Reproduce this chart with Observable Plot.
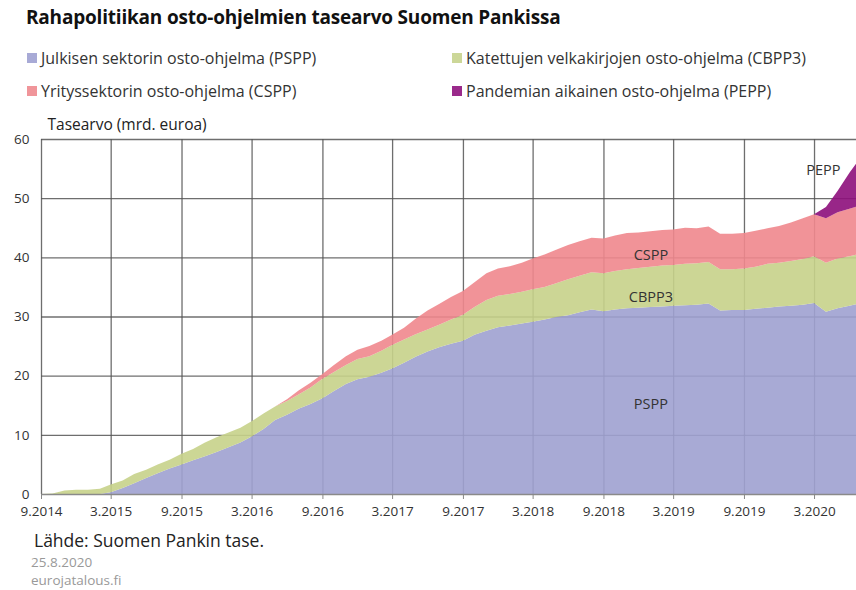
<!DOCTYPE html>
<html>
<head>
<meta charset="utf-8">
<script src="https://cdn.jsdelivr.net/npm/d3@7"></script>
<script src="https://cdn.jsdelivr.net/npm/@observablehq/plot@0.6"></script>
<style>
  body { margin: 0; width: 856px; height: 590px; overflow: hidden; background: #fff; position: relative; font-family: "Open Sans", sans-serif; }
  .abs { position: absolute; white-space: nowrap; }
  #title { left: 26px; top: 5px; font-size: 19px; font-weight: 700; color: #111; line-height: 24px; letter-spacing: -0.2px; }
  .leg { display: flex; align-items: center; font-size: 16px; color: #333; line-height: 22px; }
  .sw { width: 10px; height: 10px; margin-right: 4px; flex: none; }
  #chart { left: 0; top: 105px; }
  #source { left: 34px; top: 530px; font-size: 17.5px; color: #222; line-height: 20px; }
  #date { left: 31px; top: 554px; font-size: 13.5px; color: #999; line-height: 16px; }
  #site { left: 31px; top: 572px; font-size: 13.5px; color: #999; line-height: 16px; }
</style>
</head>
<body>
<div id="title" class="abs">Rahapolitiikan osto-ohjelmien tasearvo Suomen Pankissa</div>
<div id="legend"></div>
<div id="chart" class="abs"></div>
<div id="source" class="abs">Lähde: Suomen Pankin tase.</div>
<div id="date" class="abs">25.8.2020</div>
<div id="site" class="abs">eurojatalous.fi</div>
<script>
// Series (short names used in chart labels, long names in legend)
const seriesKeys = ["PSPP", "CBPP3", "CSPP", "PEPP"];
const legendLabels = [
  "Julkisen sektorin osto-ohjelma (PSPP)",
  "Katettujen velkakirjojen osto-ohjelma (CBPP3)",
  "Yrityssektorin osto-ohjelma (CSPP)",
  "Pandemian aikainen osto-ohjelma (PEPP)"
];
const swatchColors = ["#a8aad6", "#ccd798", "#f0959a", "#9a2a8b"];
const fillColors = ["#9ea1d0", "#c6d18a", "#ef878d", "#8d0e7b"];

// Monthly, 9.2014 ... 7.2020 (mrd. euroa)
const firstMonth = "2014-09";
const lastMonth = "2020-07";
const pspp = [
  0, 0, 0, 0, 0, 0, 0.3, 1.0, 1.8, 2.7, 3.5, 4.3,
  5.0, 5.7, 6.4, 7.1, 7.9, 8.7, 9.7, 11.0, 12.5, 13.4, 14.4, 15.2,
  16.2, 17.4, 18.6, 19.4, 19.8, 20.5, 21.2, 22.2, 23.2, 24.1, 24.8, 25.4,
  25.9, 26.9, 27.6, 28.2, 28.5, 28.8, 29.1, 29.5, 29.9, 30.2, 30.7, 31.2,
  30.9, 31.2, 31.4, 31.5, 31.6, 31.7, 31.8, 31.9, 32.0, 32.2, 31.0, 31.1,
  31.1, 31.3, 31.5, 31.7, 31.8, 32.0, 32.3, 30.8, 31.4, 31.8, 32.3
];
const cbpp3 = [
  0, 0.1, 0.6, 0.7, 0.7, 0.9, 1.3, 1.3, 1.6, 1.4, 1.5, 1.5,
  1.8, 1.9, 2.3, 2.5, 2.5, 2.5, 2.6, 2.6, 2.3, 2.3, 2.4, 2.8,
  3.3, 3.2, 3.2, 3.4, 3.5, 3.7, 4.0, 3.9, 3.8, 3.7, 3.8, 4.1,
  4.4, 4.7, 5.2, 5.3, 5.3, 5.4, 5.5, 5.5, 5.7, 6.1, 6.2, 6.3,
  6.4, 6.5, 6.6, 6.7, 6.8, 6.9, 6.9, 7.0, 7.0, 7.0, 7.0, 6.9,
  7.0, 7.1, 7.4, 7.4, 7.6, 7.7, 7.9, 8.3, 8.4, 8.4, 8.3
];
const cspp = [
  0, 0, 0, 0, 0, 0, 0, 0, 0, 0, 0, 0,
  0, 0, 0, 0, 0, 0, 0, 0, 0, 0.3, 0.7, 0.8,
  0.8, 1.2, 1.5, 1.6, 1.7, 1.7, 1.7, 2.0, 2.6, 3.2, 3.5, 3.8,
  4.0, 4.2, 4.5, 4.6, 4.7, 4.9, 5.2, 5.5, 5.7, 5.8, 5.8, 5.8,
  5.9, 6.0, 6.1, 6.0, 6.0, 6.0, 6.0, 6.1, 5.9, 6.0, 6.0, 6.0,
  6.0, 6.1, 6.0, 6.2, 6.5, 6.9, 7.1, 7.5, 7.8, 8.0, 8.2
];
const pepp = [
  0, 0, 0, 0, 0, 0, 0, 0, 0, 0, 0, 0,
  0, 0, 0, 0, 0, 0, 0, 0, 0, 0, 0, 0,
  0, 0, 0, 0, 0, 0, 0, 0, 0, 0, 0, 0,
  0, 0, 0, 0, 0, 0, 0, 0, 0, 0, 0, 0,
  0, 0, 0, 0, 0, 0, 0, 0, 0, 0, 0, 0,
  0, 0, 0, 0, 0, 0, 0, 1.9, 3.6, 6.1, 8.2
];
const xTickLabels = ["9.2014", "3.2015", "9.2015", "3.2016", "9.2016", "3.2017",
  "9.2017", "3.2018", "9.2018", "3.2019", "9.2019", "3.2020"];
const yTicks = [0, 10, 20, 30, 40, 50, 60];
const yTitle = "Tasearvo (mrd. euroa)";
// In-chart series labels
const labelText = ["PSPP", "CBPP3", "CSPP", "PEPP"];
const labelDate = ["2019-01-01", "2019-01-01", "2019-01-01", "2020-03-24"];
const labelValue = [15.2, 33.3, 40.4, 54.7];

// ---- build ----
const parseMonth = d3.utcParse("%Y-%m");
const months = d3.utcMonth.range(parseMonth(firstMonth), d3.utcMonth.offset(parseMonth(lastMonth), 1));
const valueArrays = [pspp, cbpp3, cspp, pepp];
const rows = [];
seriesKeys.forEach((k, s) => months.forEach((m, i) => rows.push({date: m, series: k, value: valueArrays[s][i]})));
const tickDates = xTickLabels.map(d3.utcParse("%m.%Y"));
const labels = labelText.map((t, i) => ({text: t, date: d3.utcParse("%Y-%m-%d")(labelDate[i]), value: labelValue[i]}));

// legend: row1 PSPP, CBPP3 ; row2 CSPP, PEPP
const legend = document.getElementById("legend");
const legPos = [[27, 47], [452, 47], [27, 80], [452, 80]];
[0, 1, 2, 3].forEach((s, j) => {
  const el = document.createElement("div");
  el.className = "abs leg";
  el.style.left = legPos[j][0] + "px";
  el.style.top = legPos[j][1] + "px";
  const sw = document.createElement("span");
  sw.className = "sw";
  sw.style.background = swatchColors[s];
  el.appendChild(sw);
  el.appendChild(document.createTextNode(legendLabels[s]));
  legend.appendChild(el);
});

const chart = Plot.plot({
  width: 856,
  height: 419,
  marginTop: 34,
  marginBottom: 30,
  marginLeft: 41,
  marginRight: 0,
  style: {fontFamily: "Open Sans, sans-serif", fontSize: "13.5px", color: "#333", background: "transparent"},
  x: {type: "utc", domain: [months[0], months[months.length - 1]], range: [41, 861]},
  y: {domain: [0, 60]},
  color: {domain: seriesKeys, range: fillColors},
  marks: [
    Plot.ruleY(yTicks.slice(1), {stroke: "#555", strokeWidth: 1.3, strokeOpacity: 0.85}),
    Plot.ruleX(tickDates, {y1: 0, y2: 60, stroke: "#555", strokeWidth: 1.3, strokeOpacity: 0.85}),
    Plot.areaY(rows, {x: "date", y: "value", fill: "series", order: seriesKeys, fillOpacity: 0.9}),
    Plot.ruleY([0], {stroke: "#8a8a8a", strokeWidth: 1.5}),
    Plot.axisX({ticks: tickDates, tickFormat: d3.utcFormat("%-m.%Y"), tickSize: 5, tickPadding: 7, stroke: "#888", label: null, fontSize: 13.5}),
    Plot.axisY({ticks: yTicks, tickSize: 0, tickPadding: 12, label: null, fontSize: 13.5}),
    Plot.text([yTitle], {frameAnchor: "top-left", dx: 6, dy: -14, textAnchor: "start", lineAnchor: "middle", fontSize: 15.5, fill: "#222"}),
    Plot.text(labels, {x: "date", y: "value", text: "text", fontSize: 14.5, fill: "#333"})
  ]
});
document.getElementById("chart").appendChild(chart);
</script>
</body>
</html>
